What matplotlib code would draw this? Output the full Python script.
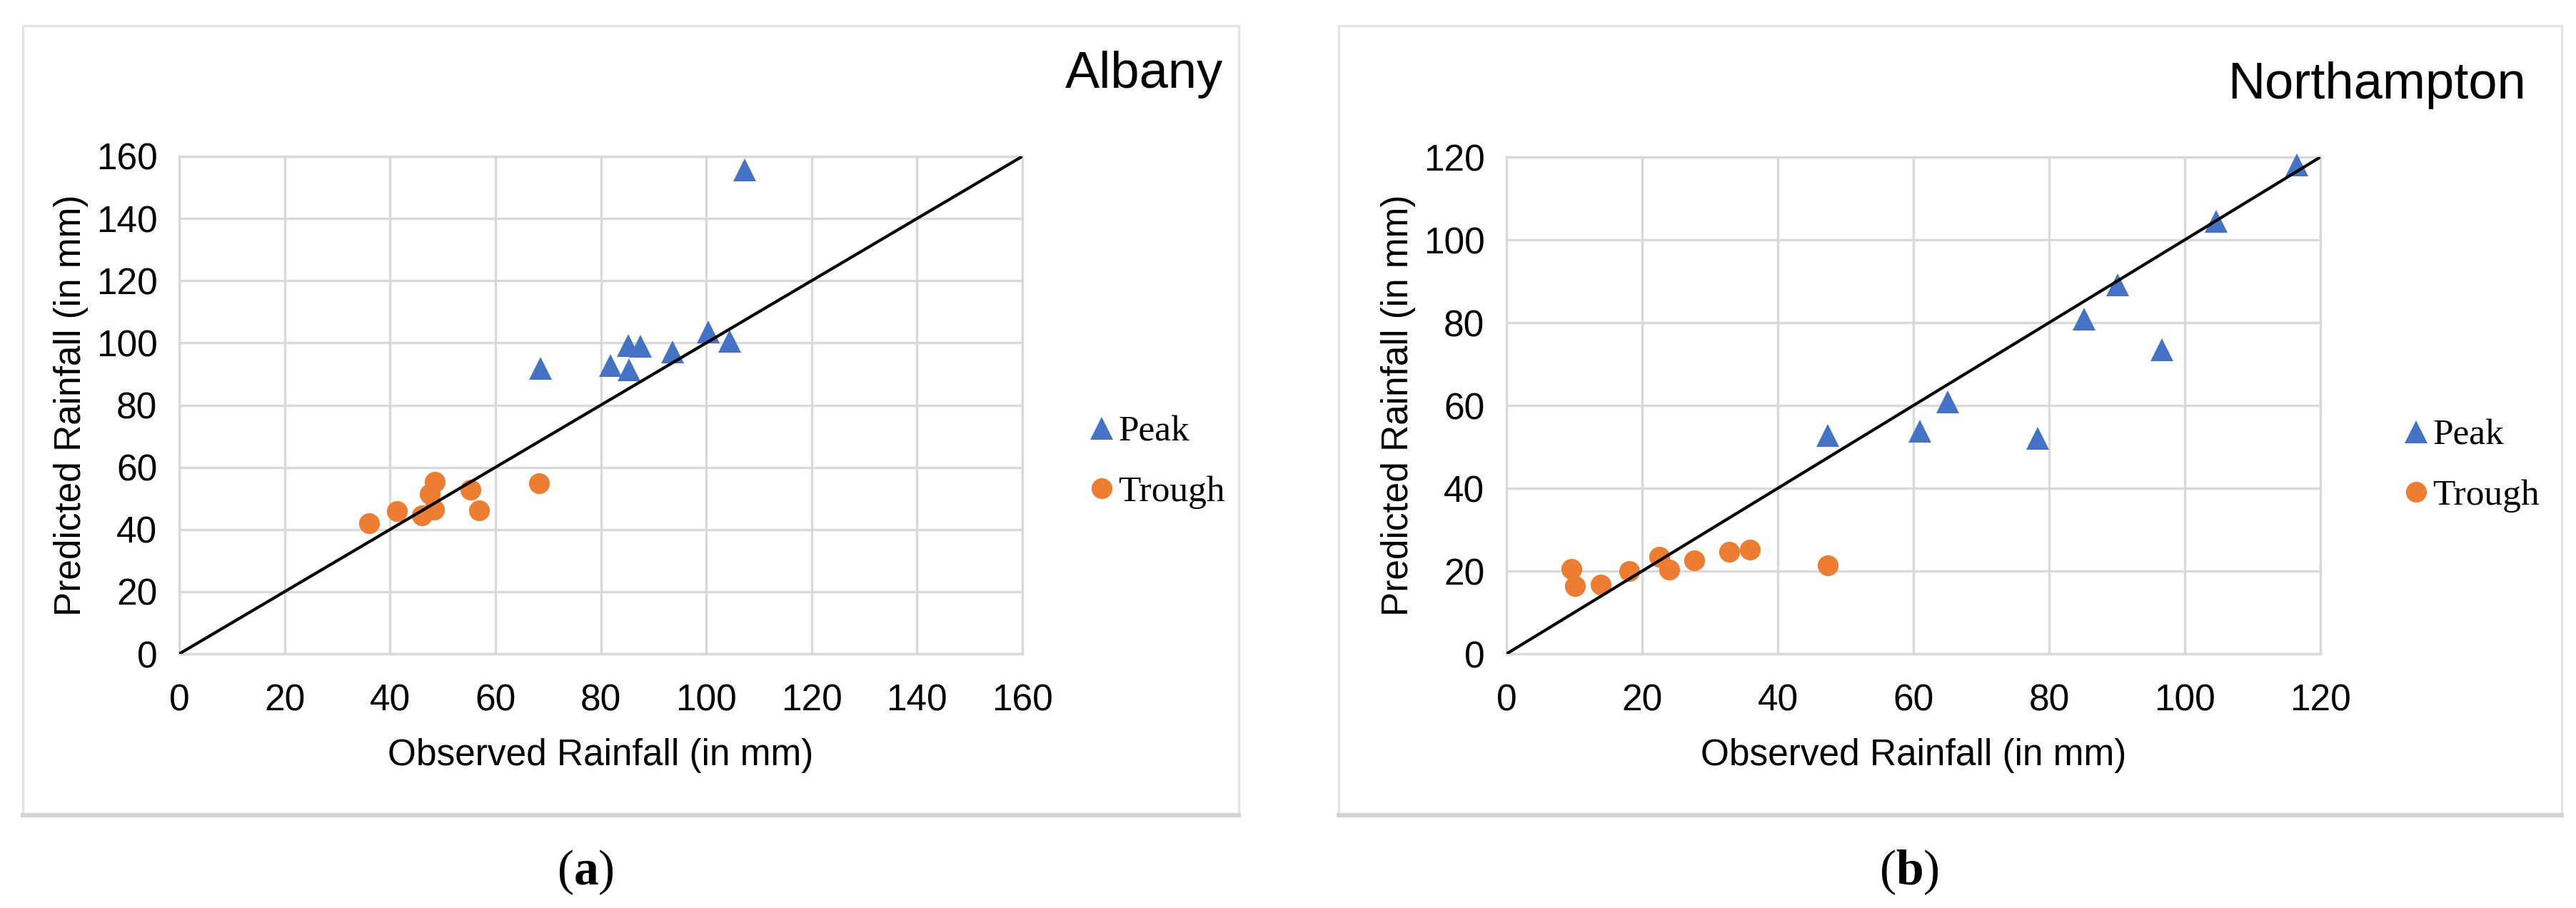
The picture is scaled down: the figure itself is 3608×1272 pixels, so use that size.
import matplotlib
matplotlib.use("Agg")
import matplotlib.pyplot as plt
from matplotlib import font_manager
from matplotlib.patches import Rectangle
from matplotlib.lines import Line2D

# ---------------- data ----------------
albany_peak_obs = [68.6, 81.8, 85.2, 87.5, 85.4, 93.6, 100.4, 104.5, 107.3]
albany_peak_pred = [91.8, 92.7, 99.1, 98.9, 91.4, 97.0, 103.5, 100.5, 155.6]
albany_trough_obs = [36.1, 41.3, 46.0, 47.5, 48.3, 48.5, 55.3, 56.9, 68.3]
albany_trough_pred = [41.9, 45.9, 44.6, 51.4, 46.4, 55.3, 52.9, 46.1, 54.8]

north_peak_obs = [47.4, 60.9, 65.0, 78.3, 85.2, 90.1, 96.6, 104.6, 116.5]
north_peak_pred = [52.8, 53.8, 60.8, 52.0, 80.9, 89.1, 73.5, 104.4, 118.1]
north_trough_obs = [9.6, 10.1, 13.9, 18.1, 22.5, 24.0, 27.7, 32.8, 35.9, 47.4]
north_trough_pred = [20.6, 16.3, 16.7, 20.0, 23.5, 20.3, 22.6, 24.7, 25.1, 21.3]

albany_ticks = [0, 20, 40, 60, 80, 100, 120, 140, 160]
north_ticks = [0, 20, 40, 60, 80, 100, 120]

titles = ["Albany", "Northampton"]
panel_labels = ["a", "b"]
legend_labels = ["Peak", "Trough"]
xlabel = "Observed Rainfall (in mm)"
ylabel = "Predicted Rainfall (in mm)"

# ---------------- styling ----------------
BLUE = "#4472C4"
ORANGE = "#ED7D31"
GRID = "#d9d9d9"

names = {f.name for f in font_manager.fontManager.ttflist}
NARROW = "Liberation Sans Narrow" if "Liberation Sans Narrow" in names else "Liberation Sans"
SANS = "Liberation Sans"
SERIF = "Liberation Serif"

plt.rcParams["mathtext.fontset"] = "custom"
plt.rcParams["mathtext.rm"] = "Liberation Serif"
plt.rcParams["mathtext.bf"] = "Liberation Serif:bold"

W, H = 3608, 1272
fig = plt.figure(figsize=(W / 100, H / 100), dpi=100)


def fx(px):
    return px / W


def fy(py):
    return 1 - py / H


def add_panel(box, axbox, lim, ticks, peak_x, peak_y, tr_x, tr_y, title, title_xy,
              leg_xy, lab, lab_xy):
    # panel frame
    bx0, by0, bx1, by1 = box
    fig.patches.append(Rectangle((fx(bx0), fy(by1)), fx(bx1 - bx0), (by1 - by0) / H,
                                 transform=fig.transFigure, fill=False,
                                 edgecolor="#e3e3e3", lw=2.2, zorder=0))
    fig.lines.append(Line2D([fx(bx0), fx(bx1)], [fy(by1 + 2), fy(by1 + 2)],
                            transform=fig.transFigure, color="#d4d4d4", lw=4.5))

    ax0, ay0, ax1, ay1 = axbox
    ax = fig.add_axes([fx(ax0), fy(ay1), fx(ax1 - ax0), (ay1 - ay0) / H])
    ax.set_xlim(0, lim)
    ax.set_ylim(0, lim)
    ax.set_xticks(ticks)
    ax.set_yticks(ticks)
    ax.grid(True, color=GRID, lw=2.4, zorder=0)
    ax.set_axisbelow(True)
    for s in ax.spines.values():
        s.set_color(GRID)
        s.set_linewidth(2.4)
    ax.tick_params(length=0, labelsize=37)
    for t in ax.get_xticklabels() + ax.get_yticklabels():
        t.set_fontfamily(NARROW)
    ax.tick_params(axis="x", pad=30)
    ax.tick_params(axis="y", pad=22)

    ax.plot([0, lim], [0, lim], color="black", lw=3.0, zorder=4, solid_capstyle="butt")
    ax.plot(peak_x, peak_y, ls="none", marker="^", ms=23, color=BLUE, mew=0,
            zorder=3, clip_on=False, label=legend_labels[0])
    ax.plot(tr_x, tr_y, ls="none", marker="o", ms=21, color=ORANGE, mew=0,
            zorder=3, clip_on=False, label=legend_labels[1])

    ax.set_xlabel(xlabel, fontsize=37, fontfamily=NARROW, labelpad=20)
    ax.set_ylabel(ylabel, fontsize=37, fontfamily=SANS, labelpad=8)

    fig.text(fx(title_xy[0]), fy(title_xy[1]), title, ha="right", va="baseline",
             fontsize=52, fontfamily=NARROW)

    ax.legend(loc="upper left", bbox_to_anchor=(fx(leg_xy[0]), fy(leg_xy[1])),
              bbox_transform=fig.transFigure, frameon=False,
              prop={"family": SERIF, "size": 37}, handlelength=0.6,
              handletextpad=0.15, labelspacing=0.72, borderpad=0,
              borderaxespad=0, markerscale=1.0)

    fig.text(fx(lab_xy[0]), fy(lab_xy[1]), "(" + r"$\mathbf{" + lab + "}$" + ")",
             ha="center", va="center", fontsize=50, fontfamily=SERIF)
    return ax


add_panel(box=(32, 36, 1735, 1140), axbox=(251, 219, 1432, 916), lim=160,
          ticks=albany_ticks, peak_x=albany_peak_obs, peak_y=albany_peak_pred,
          tr_x=albany_trough_obs, tr_y=albany_trough_pred, title=titles[0],
          title_xy=(1713, 123), leg_xy=(1528, 582), lab=panel_labels[0],
          lab_xy=(820, 1222))

add_panel(box=(1875, 36, 3588, 1140), axbox=(2110, 220, 3250, 916), lim=120,
          ticks=north_ticks, peak_x=north_peak_obs, peak_y=north_peak_pred,
          tr_x=north_trough_obs, tr_y=north_trough_pred, title=titles[1],
          title_xy=(3538, 138), leg_xy=(3369, 587), lab=panel_labels[1],
          lab_xy=(2674, 1222))

fig.savefig("out.png", dpi=100, facecolor="white")
